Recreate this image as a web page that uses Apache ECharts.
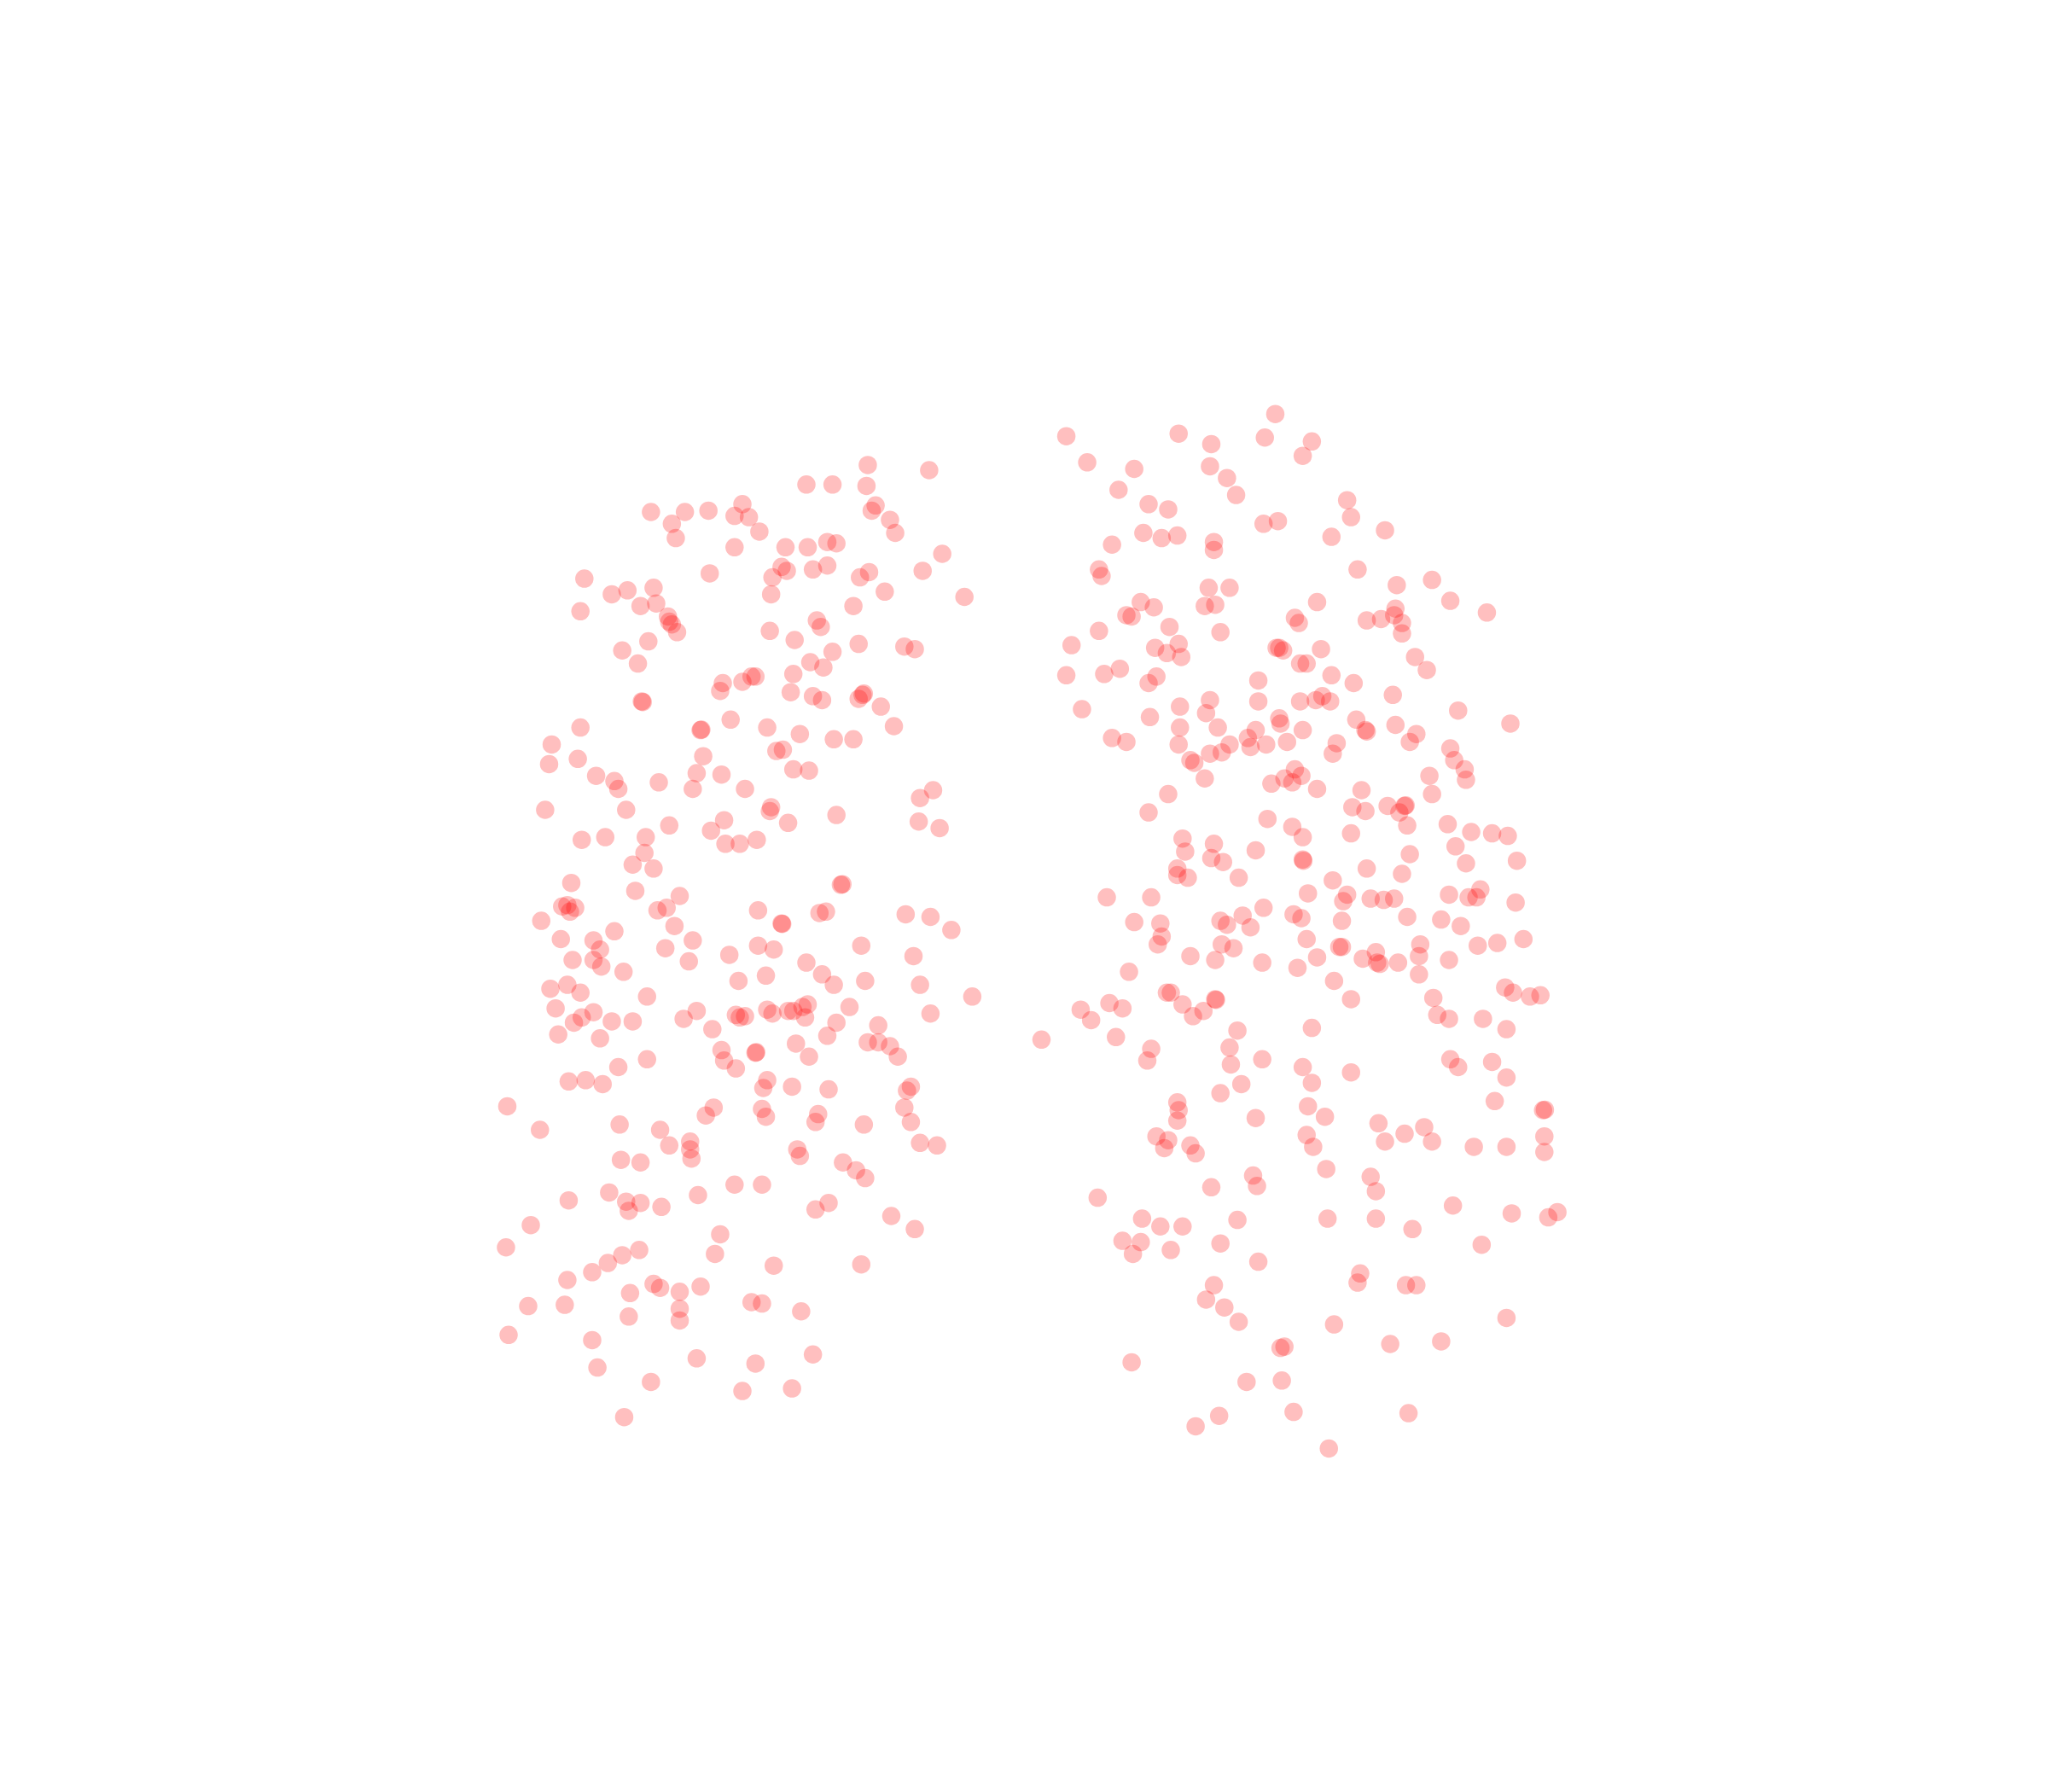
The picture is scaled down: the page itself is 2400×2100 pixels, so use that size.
<!DOCTYPE html>
<html><head><meta charset="utf-8">
<style>html,body{margin:0;padding:0;background:#fff}#c{width:2400px;height:2100px}</style>
<script src="https://cdn.jsdelivr.net/npm/echarts@6/dist/echarts.min.js"></script>
</head><body><div id="c"></div>
<script>
const leftPoints=[[617,371],[637,371],[664,356],[711,360],[663,372],[670,387],[667,391],[681,398],[685,408],[721,424],[568,386],[562,395],[573,396],[581,407],[542,391],[524,392],[498,392],[514,401],[517,412],[562,419],[601,419],[618,419],[633,415],[640,416],[598,434],[602,437],[591,442],[622,436],[633,433],[658,442],[665,438],[706,437],[738,457],[677,453],[653,464],[543,439],[590,455],[447,443],[480,452],[468,455],[500,450],[490,464],[502,462],[444,468],[511,472],[512,476],[514,478],[518,484],[589,483],[625,475],[628,480],[608,490],[657,493],[692,495],[700,497],[496,491],[476,498],[488,508],[637,499],[620,507],[630,511],[607,516],[575,518],[578,518],[568,522],[553,523],[551,529],[605,530],[622,533],[629,536],[657,535],[660,532],[661,531],[674,541],[684,556],[491,537],[491.7,537.5],[444,557],[536,559],[536.6,558.6],[559,551],[587,557],[612,562],[638,566],[653,566],[422,570],[420,585],[442,581],[456,594],[470,598],[473,604],[504,599],[538,579],[533,592],[530,604],[552,593],[570,604],[594,575],[599,574],[607,589],[619,590],[714,605],[704,611],[417,620],[479,620],[590,618],[589,621],[603,630],[640,624],[703,629],[719,634],[554,628],[544,636],[512,632],[445,643],[463,641],[494,641],[493,653],[555,646],[566,646],[579,643],[484,662],[500,665],[437,676],[486,682],[520,686],[643.4,677.4],[644.6,677],[430,694],[434,693],[436,698],[440,695],[414,705],[503,697],[510,695],[516,709],[470,713],[580,697],[598,707],[598.5,707.4],[627,699],[632,698],[693,700],[712,702],[728,712],[429,719],[454,720],[459,727],[454,735],[438,735],[460,740],[477,744],[509,726],[530,720],[527,736],[558,731],[580,724],[592,727],[617,737],[629,746],[659,724],[699,732],[565,751],[586,747],[638,754],[662,751],[704,754],[421,757],[434,754],[444,760],[495,763],[425,772],[454,775],[445,779],[439,783],[468,782],[484,782],[533,774],[523,780],[427,792],[459,795],[545,788],[563,777],[566,779],[570,778],[587,773],[591,776],[603,774],[607,774],[614,771],[618,769],[616,779],[650,771],[712,776],[744,763],[640,783],[633,793],[672,785],[664,798],[672,798],[681,801],[687,809],[609,799],[619,809],[552,804],[554,812],[563,818],[578,806],[578.6,805.6],[495,811],[473,817],[435,828],[448,827],[461,830],[587,827],[584,833],[606,832],[634,834],[694,835],[697,832],[388,847],[413,865],[546,848],[540,854],[583,849],[586,855],[626,853],[624,859],[661,861],[692,848],[697,859],[474,861],[505,865],[528,874],[528,880],[512,877],[529,887],[704,875],[717,877],[610,880],[612,885],[645,890],[655,896],[662,902],[475,888],[490,890],[562,907],[583,907],[435,919],[466,913],[479,920],[481,927],[490,921],[506,924],[534,915],[634,921],[624,926],[682,931],[700,941],[406,938],[551,945],[387,955],[489,957],[476,961],[465,967],[547,960],[453,974],[434,980],[592,969],[659,968],[500,983],[505,986],[482,990],[520,989],[536,985],[404,1000],[432,999],[481,1008],[520,1002],[520,1011],[575,997],[583,998],[613,1004],[389,1022],[453,1026],[622,1037],[533,1040],[578,1044],[457,1047],[498,1058],[568,1065],[606,1063],[477.5,1085]];
const rightPoints=[[976,317],[902,332],[816,334],[927,340],[968,335],[1004,338],[997,349],[832,354],[868,359],[926,357],[939,366],[856,375],[946,379],[879,386],[894,390],[1031,383],[1034,396],[967,401],[978,399],[875,408],[889,412],[901,410],[929,415],[929,421],[851,417],[1019,411],[1060,406],[841,436],[843,441],[1039,436],[1069,448],[1096,444],[925,450],[941,450],[1110,460],[922,464],[930,463],[873,461],[883,465],[862,471],[866,472],[1008,461],[1068,466],[1067,471],[1073,477],[1046,475],[1057,474],[1138,469],[991,473],[994,477],[895,480],[841,483],[934,484],[1073,485],[820,494],[884,496],[893,500],[902,493],[904,503],[977,496],[979,496],[982,498],[1011,497],[1083,503],[995,508],[1000,508],[1092,513],[816,517],[845,516],[857,512],[885,518],[879,523],[963,521],[1019,517],[1036,523],[926,536],[995,537],[963,537],[1007,536],[1012,533],[1018,537],[1066,532],[828,543],[903,541],[880,549],[923,546],[1116,544],[979,550],[980,554],[1038,551],[1068,555],[1045,559],[1046,560],[1156,554],[903,557],[932,557],[961,559],[851,565],[862,568],[902,570],[955,565],[957,572],[969,570],[985,568],[997,559],[1023,569],[1020,577],[1084,562],[1079,568],[941,570],[935,576],[926,577],[911,582],[914,584],[1110,573],[1113,582],[1121,589],[1094,594],[1122,597],[922,596],[973,600],[983,596],[989,599],[991,589],[996,594],[1008,604],[1042,605],[894,608],[1096,608],[879,622],[1035,618],[1045,621],[1062,617],[1071,622],[1075,617],[1075.8,616.6],[1077,632],[970,627],[989,633],[997,641],[1034,638],[1108,631],[1126,637],[1142,638],[1154,640],[905,642],[907,652],[929,646],[927,657],[936,660],[961,651],[997,658],[997.5,659],[1079,654],[1114,648],[1122,661],[1161,659],[901,665],[901,670],[909,672],[948,672],[1046,665],[1073,669],[1020,674],[847,687],[881,687],[1001,684],[1031,685],[1028,690],[1049,688],[1059,689],[1067,688],[1109,685],[1124,687],[1130,687],[1133,681],[1160,691],[967,695],[951,701],[990,700],[996,703],[1027,705],[1077,702],[1103,704],[868,706],[888,707],[934,705],[939,708],[957,710],[1118,709],[889,717],[886,723],[935,723],[944,726],[1000,719],[1025,725],[1027,725],[1087,723],[1131,724],[1146,722],[1166,719],[930,735],[966,737],[911,732],[1008,733],[1043,734],[1053,729],[1054,737],[1056,738],[1070,737],[1086,732],[1109,735],[864,744],[993,741],[1086,746],[1021,751],[1152,756],[1158,760],[1171,763],[1179,762],[893,760],[896,760],[905,769],[930,765],[930.6,765.5],[1034,765],[1097,764],[849,768],[859,772],[827,773],[835,781],[921,774],[913,778],[1100,777],[1109,780],[1135,780],[1153,788],[947,789],[1004,787],[854,794],[797,796],[881,803],[941,802],[878,812],[942,815],[966,811],[997,817],[1110,811],[1116,817],[1142,813],[1153,825],[1034,821],[1004,829],[950,830],[934,837],[1144,843],[901,844],[902,850],[901,858],[961,856],[1001,847],[1014,855],[1181,850],[1182.4,849.6],[1055,860],[1090,863],[1075,868],[1060,874],[1096,874],[1000,869],[1005,878],[885,870],[894,873],[891,879],[911,877],[915,883],[1128,878],[1153,878],[1182,870],[1182,882],[1015,895],[959,900],[962,908],[1049,901],[1053,912],[927,909],[840,917],[1112,923],[1157,929],[1185,932],[1192,928],[874,933],[888,939],[905,939],[947,934],[1016,933],[1053,933],[1081,941],[859,950],[873,951],[867,960],[896,957],[934,952],[1134,953],[963,966],[1041,975],[1039,982],[1076,984],[1084,984],[929,984],[923,995],[937,1001],[948,1012],[1021,1014],[1153,1009],[1064,1029],[1103,1027],[980,1032],[983,1031],[866,1043],[954,1058],[981,1057],[990,1081],[1078,1082],[933,1084],[915,1092],[1017,1109]];
const chart=echarts.init(document.getElementById('c'),null,{renderer:'canvas'});
chart.setOption({
  animation:false,
  backgroundColor:'#ffffff',
  grid:{left:0,right:0,top:0,bottom:0},
  xAxis:{type:'value',min:-0.4,max:1567.6,show:false},
  yAxis:{type:'value',min:0,max:1372,inverse:true,show:false},
  series:[{
    type:'scatter',
    symbolSize:21.5,
    data:leftPoints.concat(rightPoints),
    itemStyle:{color:'#ff0000',opacity:0.25,borderWidth:0}
  }]
});
</script></body></html>
